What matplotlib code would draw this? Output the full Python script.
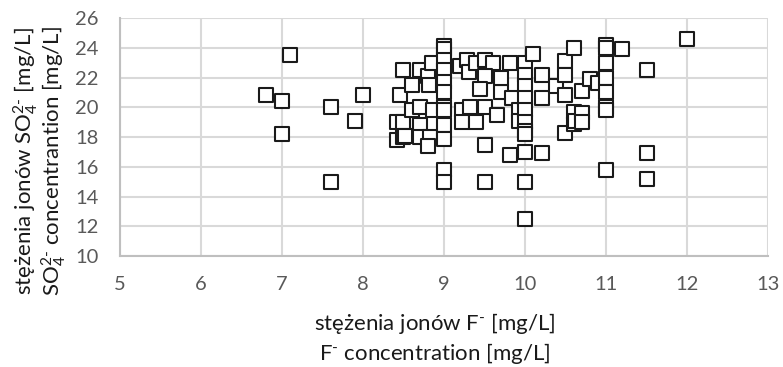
import matplotlib

matplotlib.use("Agg")
import matplotlib.pyplot as plt  # noqa: E402

plt.rcParams["font.family"] = ["Lato", "DejaVu Sans"]
plt.rcParams["mathtext.fontset"] = "custom"
plt.rcParams["mathtext.rm"] = "Lato"
plt.rcParams["mathtext.it"] = "Lato:italic"
plt.rcParams["mathtext.default"] = "regular"

# fluoride concentration [mg/L] vs sulphate concentration [mg/L]
f_conc = [
    6.8, 7.0, 7.0, 7.1, 7.6, 7.6, 7.9, 8.0,
    8.42, 8.42, 8.46, 8.5, 8.5, 8.5, 8.52, 8.6, 8.6, 8.7, 8.7, 8.7, 8.7,
    8.8, 8.81, 8.83, 8.8, 8.85, 8.87,
    9.0, 9.0, 9.0, 9.0, 9.0, 9.0, 9.0, 9.0, 9.0, 9.0, 9.0, 9.0,
    9.2, 9.28, 9.31, 9.4, 9.51, 9.61, 9.51, 9.44, 9.7, 9.81, 9.71, 9.84,
    9.22, 9.22, 9.4, 9.51, 9.32, 9.66, 9.92, 9.92, 9.51, 9.81, 9.51,
    10.0, 10.0, 10.0, 10.0, 10.0, 10.0, 10.0, 10.0, 10.0, 10.0, 10.0,
    10.1, 10.21, 10.21, 10.21, 10.38, 10.49, 10.49, 10.49, 10.49, 10.6,
    10.6, 10.6, 10.62, 10.7, 10.7, 10.7, 10.8, 10.9,
    11.0, 11.0, 11.0, 11.0, 11.0, 11.0, 11.0, 11.0, 11.2,
    11.5, 11.5, 11.5, 12.0,
]
so4_conc = [
    20.8, 20.4, 18.2, 23.5, 20.0, 15.0, 19.1, 20.8,
    19.0, 17.8, 20.8, 22.5, 18.0, 19.0, 18.1, 21.5, 19.8, 22.5, 20.0, 18.8, 18.0,
    22.1, 21.5, 18.0, 17.4, 23.0, 19.8,
    24.1, 23.9, 23.2, 22.5, 21.7, 21.0, 20.0, 19.8, 18.8, 17.9, 15.8, 15.0,
    22.8, 23.2, 22.4, 23.0, 23.2, 23.0, 22.1, 21.2, 21.0, 23.0, 22.0, 20.6,
    19.8, 19.0, 19.0, 20.0, 20.0, 19.5, 19.8, 19.1, 17.5, 16.8, 15.0,
    23.0, 22.2, 21.4, 20.6, 19.8, 19.0, 18.4, 18.2, 17.0, 15.0, 12.5,
    23.6, 22.2, 20.6, 16.9, 21.4, 23.1, 22.2, 20.8, 18.3, 24.0,
    19.7, 18.9, 19.1, 21.1, 19.6, 19.0, 21.9, 21.6,
    24.2, 24.0, 23.0, 22.0, 21.0, 20.0, 19.8, 15.8, 23.9,
    22.5, 16.9, 15.2, 24.6,
]

x_ticks = [5, 6, 7, 8, 9, 10, 11, 12, 13]
y_ticks = [10, 12, 14, 16, 18, 20, 22, 24, 26]

fig = plt.figure(figsize=(7.83, 3.67), dpi=100)
ax = fig.add_axes([0.153, 0.302, 0.828, 0.649])

ax.scatter(f_conc, so4_conc, marker="s", s=95, facecolor="white",
           edgecolor="#1a1a1a", linewidth=1.5, zorder=3)

ax.set_xlim(5, 13)
ax.set_ylim(10, 26)
ax.set_xticks(x_ticks)
ax.set_yticks(y_ticks)
ax.grid(True, color="#d9d9d9", linewidth=1.5, zorder=0)
ax.set_axisbelow(True)
for side in ("top", "right"):
    ax.spines[side].set_visible(False)
for side in ("left", "bottom"):
    ax.spines[side].set_color("#bfbfbf")
    ax.spines[side].set_linewidth(1.5)
ax.tick_params(axis="x", length=0, labelsize=14.5, labelcolor="#595959", pad=14)
ax.tick_params(axis="y", length=0, labelsize=14.5, labelcolor="#595959", pad=15)

lab = dict(fontsize=16, color="#1a1a1a", ha="center", va="center")
fig.text(0.555, 0.118, "stężenia jonów F$^{‐}$ [mg/L]", **lab)
fig.text(0.555, 0.037, "F$^{‐}$ concentration [mg/L]", **lab)
fig.text(0.033, 0.562, "stężenia jonów SO$_4^{2‐}$ [mg/L]", rotation=90, **lab)
fig.text(0.069, 0.562, "SO$_4^{2‐}$ concentrantion [mg/L]", rotation=90, **lab)

fig.savefig("out.png", dpi=100)
